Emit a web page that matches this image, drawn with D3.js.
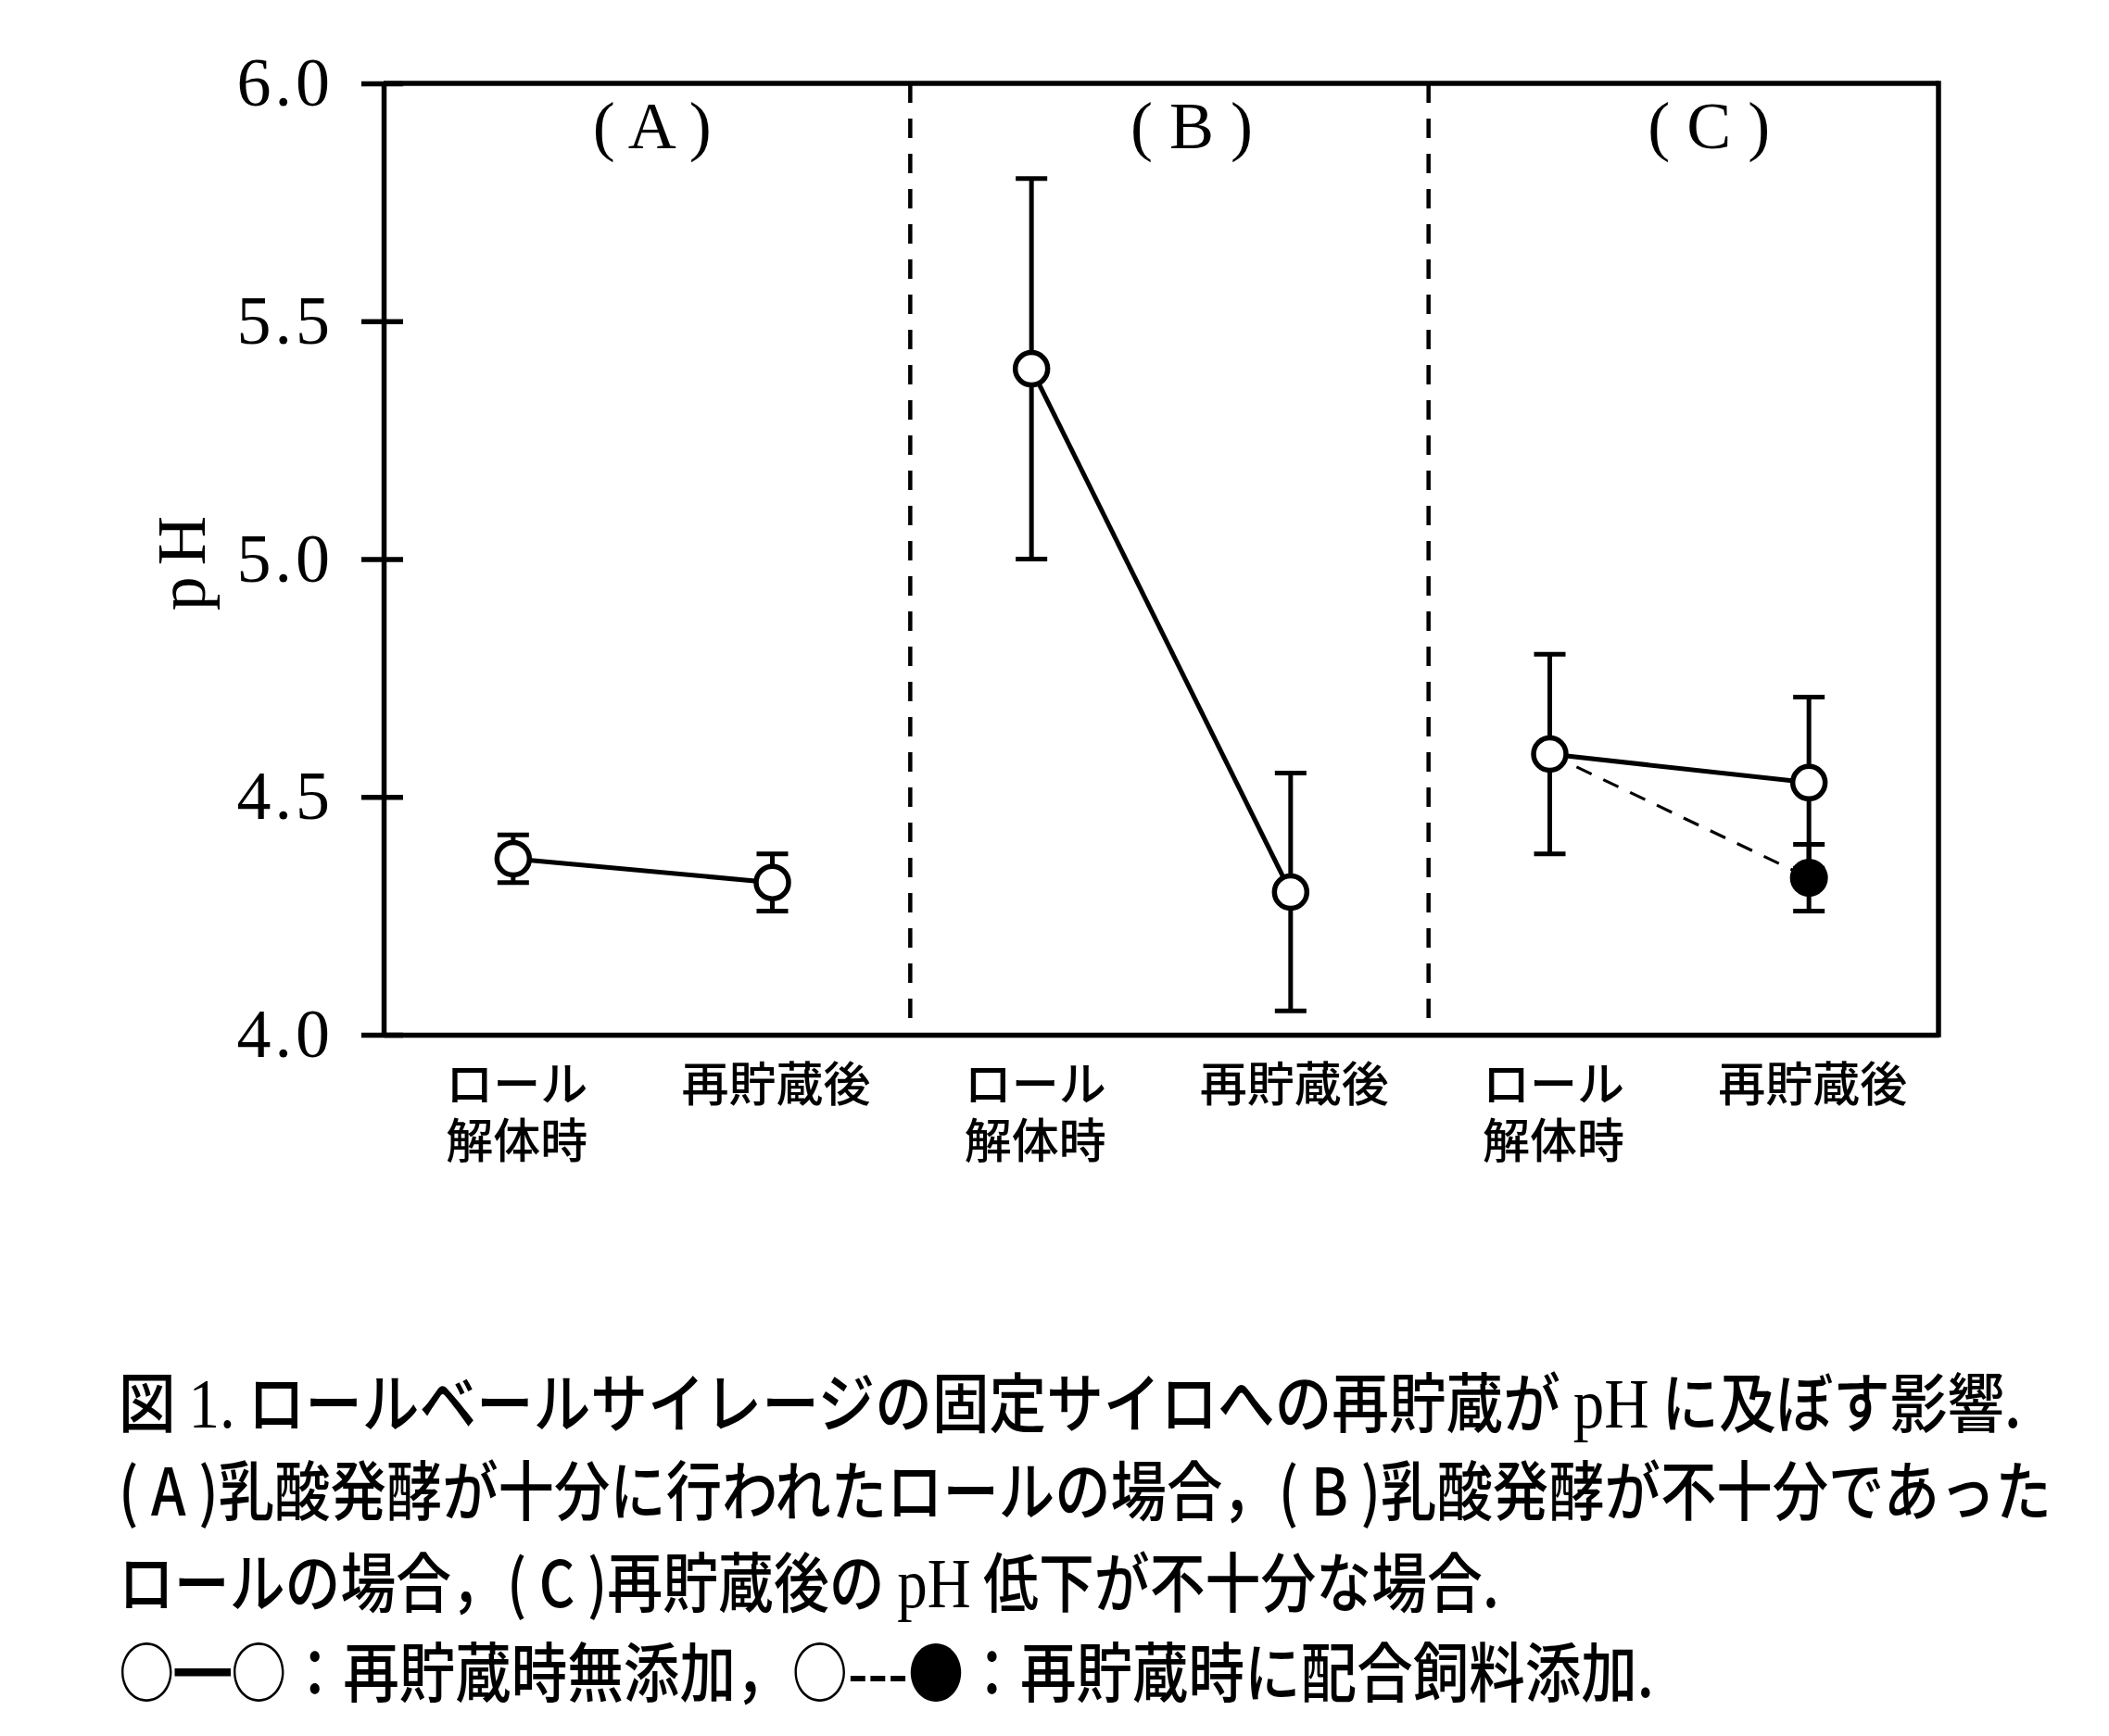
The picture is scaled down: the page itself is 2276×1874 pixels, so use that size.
<!DOCTYPE html>
<html><head><meta charset="utf-8">
<script src="https://cdn.jsdelivr.net/npm/d3@7"></script>
<style>body{margin:0;background:#fff} svg{display:block}</style>
</head><body>
<svg id="c" width="2276" height="1874"></svg>
<script>
// ---- data ----
const panels = ["(A)", "(B)", "(C)"];
const stages = [["ロール", "解体時"], ["再貯蔵後"]];
const categories = ["A-1", "A-2", "B-1", "B-2", "C-1", "C-2"];
const noAddMean = [4.37, 4.32, 5.40, 4.30, 4.59, 4.53];
const noAddErr  = [0.05, 0.06, 0.40, 0.25, 0.21, 0.18];
const feedCategories = ["C-1", "C-2"];
const feedMean = [4.59, 4.33];
const feedErr  = [0.21, 0.07];
const yTicks = [4.0, 4.5, 5.0, 5.5, 6.0];
const yTickLabels = ["4.0", "4.5", "5.0", "5.5", "6.0"];
const yTitle = "pH";
const captionLines = [
  [["図 ", "cjk"], ["1.", "serif"], [" ロールベールサイレージの固定サイロへの再貯蔵が ", "cjk"], ["pH", "serif"], [" に及ぼす影響.", "cjk"]],
  [["( A )乳酸発酵が十分に行われたロールの場合，( B )乳酸発酵が不十分であった", "cjk"]],
  [["ロールの場合，( C )再貯蔵後の ", "cjk"], ["pH", "serif"], [" 低下が不十分な場合.", "cjk"]],
  [["○━○：再貯蔵時無添加，○---●：再貯蔵時に配合飼料添加.", "cjk"]]
];

// ---- layout ----
const svg = d3.select("#c");
const X0 = 414, X1 = 2092, YTOP = 90, YBOT = 1117;
const x = d3.scaleBand().domain(categories).range([X0, X1]).paddingInner(0).paddingOuter(0);
const y = d3.scaleLinear().domain([4, 6]).range([YBOT, YTOP]);
const cx = d => x(d) + x.bandwidth() / 2;
const CJK = "'Noto Sans CJK JP', sans-serif";
const SERIF = "'Liberation Serif', 'DejaVu Serif', serif";
const SW = 5.5;   // frame / axis width
const LW = 5;     // data line width

// y axis
const yAxis = d3.axisLeft(y).tickValues(yTicks)
  .tickFormat((d, i) => yTickLabels[i]).tickSize(24).tickSizeOuter(0).tickPadding(30);
const gy = svg.append("g").attr("transform", `translate(${X0},0)`).call(yAxis);
gy.select(".domain").attr("stroke", "#000").attr("stroke-width", SW);
gy.selectAll(".tick line").attr("x1", 21).attr("stroke", "#000").attr("stroke-width", SW);
gy.selectAll(".tick text").attr("font-family", SERIF).attr("font-size", 74)
  .attr("letter-spacing", 4).attr("fill", "#000");

// x axis
const xAxis = d3.axisBottom(x).tickSize(0).tickSizeOuter(0).tickFormat(() => "");
const gx = svg.append("g").attr("transform", `translate(0,${YBOT})`).call(xAxis);
gx.select(".domain").attr("stroke", "#000").attr("stroke-width", SW);
gx.selectAll(".tick text").each(function(d, i) {
  const t = d3.select(this).attr("y", null).attr("dy", null)
    .attr("font-family", CJK).attr("font-size", 51).attr("font-weight", 500).attr("fill", "#000");
  stages[i % 2].forEach((line, j) => {
    t.append("tspan").attr("x", 4).attr("y", 72 + j * 61).text(line);
  });
});

// frame: top & right
svg.append("line").attr("x1", X0).attr("x2", X1).attr("y1", y(6)).attr("y2", y(6))
  .attr("stroke", "#000").attr("stroke-width", SW);
svg.append("line").attr("x1", X1).attr("x2", X1).attr("y1", y(6) - SW / 2).attr("y2", y(4) + SW / 2)
  .attr("stroke", "#000").attr("stroke-width", SW);

// panel dividers (slightly right of the band boundary, as in the original)
[2, 4].forEach(k => {
  const xx = x(categories[k]) + 9;
  svg.append("line").attr("x1", xx).attr("x2", xx)
    .attr("y1", y(6)).attr("y2", y(4))
    .attr("stroke", "#000").attr("stroke-width", 4.5).attr("stroke-dasharray", "21,17");
});

// panel labels
const panelOffset = [10, 33, 32];
panels.forEach((p, i) => {
  svg.append("text").attr("x", x(categories[2 * i]) + x.bandwidth() + panelOffset[i]).attr("y", 160)
    .attr("text-anchor", "middle").attr("font-family", SERIF).attr("font-size", 72)
    .attr("fill", "#000").text(p.replace("(", "( ").replace(")", " )"));
});

// y title
svg.append("text").attr("transform", "translate(221,602) rotate(-90)")
  .attr("text-anchor", "middle").attr("font-family", SERIF).attr("font-size", 74)
  .attr("letter-spacing", 12).attr("fill", "#000").text(yTitle);

// error bars
function errBar(c, m, e) {
  const g = svg.append("g").attr("stroke", "#000").attr("stroke-width", LW);
  g.append("line").attr("x1", cx(c)).attr("x2", cx(c)).attr("y1", y(m - e)).attr("y2", y(m + e));
  [m - e, m + e].forEach(v => g.append("line").attr("x1", cx(c) - 17).attr("x2", cx(c) + 17)
    .attr("y1", y(v)).attr("y2", y(v)));
}
categories.forEach((c, i) => errBar(c, noAddMean[i], noAddErr[i]));

// connecting lines (no additive), per panel
const lineGen = d3.line().x(d => cx(d.c)).y(d => y(d.m));
panels.forEach((p, i) => {
  const pts = [0, 1].map(j => ({ c: categories[2 * i + j], m: noAddMean[2 * i + j] }));
  svg.append("path").attr("d", lineGen(pts)).attr("fill", "none")
    .attr("stroke", "#000").attr("stroke-width", LW);
});

// feed-added series (dashed)
const feedPts = feedCategories.map((c, i) => ({ c, m: feedMean[i] }));
svg.append("path").attr("d", lineGen(feedPts)).attr("fill", "none")
  .attr("stroke", "#000").attr("stroke-width", 3.2).attr("stroke-dasharray", "18,14");

// open circles
categories.forEach((c, i) => {
  svg.append("circle").attr("cx", cx(c)).attr("cy", y(noAddMean[i])).attr("r", 17.5)
    .attr("fill", "#fff").attr("stroke", "#000").attr("stroke-width", 5.5);
});

// filled point with its error bar
errBar(feedCategories[1], feedMean[1], feedErr[1]);
svg.append("circle").attr("cx", cx(feedCategories[1])).attr("cy", y(feedMean[1])).attr("r", 20.5)
  .attr("fill", "#000");

// caption: natural layout, then horizontally scaled to the original line width
const capY = [1541, 1636, 1735, 1832];
const capLen = [2054, 2086, 1490, 1657];
captionLines.forEach((segs, i) => {
  const t = svg.append("text").attr("x", 0).attr("y", 0).attr("font-size", 70)
    .attr("font-weight", 500).attr("fill", "#000").attr("font-family", CJK);
  segs.forEach(([s, f]) => t.append("tspan").attr("font-family", f === "serif" ? SERIF : CJK)
    .attr("font-weight", f === "serif" ? 400 : 500)
    .attr("font-size", f === "serif" ? 76 : 70).text(s));
  const natural = t.node().getComputedTextLength();
  const sx = capLen[i] / natural;
  t.attr("transform", `translate(128,${capY[i]}) scale(${sx},1)`);
});
</script>
</body></html>
